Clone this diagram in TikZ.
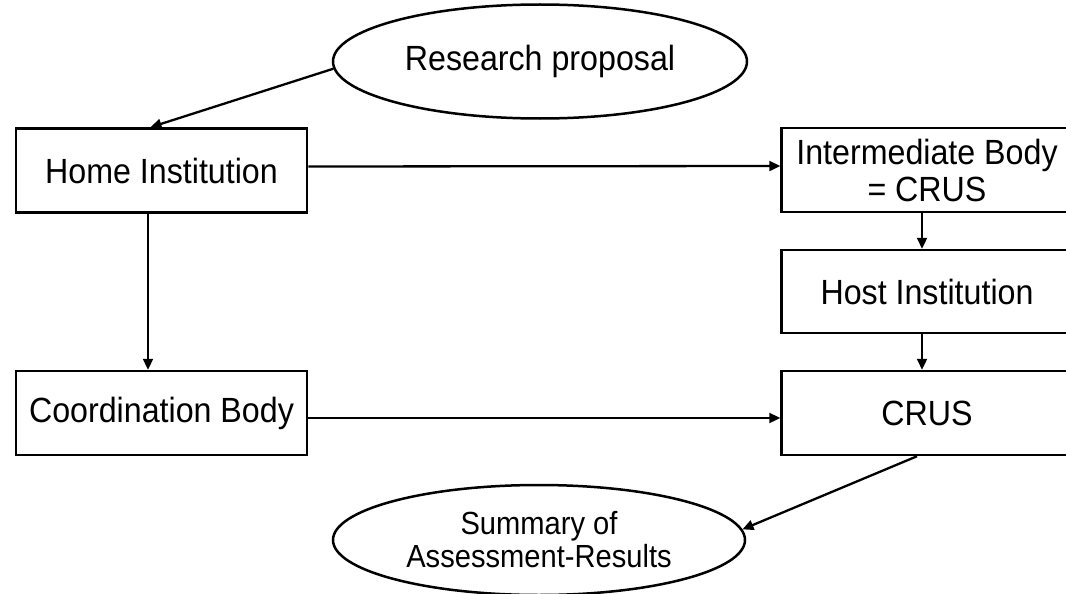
\documentclass[tikz,border=0pt]{standalone}
\usepackage{fontspec}
\setmainfont[FakeStretch=0.92]{Liberation Sans}
\usetikzlibrary{shapes.geometric,arrows.meta}
\begin{document}
\begin{tikzpicture}[x=1pt,y=-1pt,
  every node/.style={font=\fontsize{35}{37}\selectfont, line width=2.5pt, draw=black, inner sep=0pt},
  box/.style={rectangle, minimum width=291pt, minimum height=84pt, align=center},
  oval/.style={ellipse, align=center},
  conn/.style={line width=2.3pt, -{Stealth[length=11pt,width=10pt,inset=0pt]}}]
\path[use as bounding box, clip] (0,0) rectangle (1066,594);
\node[box] (home) at (161.5,170.5) {Home Institution};
\node[box] (coord) at (161.5,413) {Coordination Body};
\node[box, minimum height=84pt] (inter) at (927,170) {Intermediate Body\\= CRUS};
\node[box, minimum height=83pt] (host) at (927,291.5) {Host Institution};
\node[box] (crus) at (927,413) {CRUS};
\node[oval, minimum width=414pt, minimum height=114pt] (rp) at (540,61.5) {Research proposal};
\node[oval, minimum width=412pt, minimum height=110pt, font=\fontsize{32}{33}\selectfont\addfontfeatures{FakeStretch=0.91}] (sum) at (539,540) {Summary of\\Assessment-Results};
\draw[conn] (rp.182) -- ([xshift=-11pt]home.north);
\draw[conn] ([xshift=-13.5pt]home.south) -- ([xshift=-13.5pt]coord.north);
\draw[conn] ([yshift=4pt]home.east) -- ([yshift=4pt]inter.west);
\draw[conn] ([xshift=-5pt]inter.south) -- ([xshift=-5pt]host.north);
\draw[conn] ([xshift=-5pt]host.south) -- ([xshift=-5pt]crus.north);
\draw[conn] ([yshift=-5pt]coord.east) -- ([yshift=-5pt]crus.west);
\draw[conn] ([xshift=-10pt]crus.south) -- (sum.3);
\end{tikzpicture}
\end{document}
